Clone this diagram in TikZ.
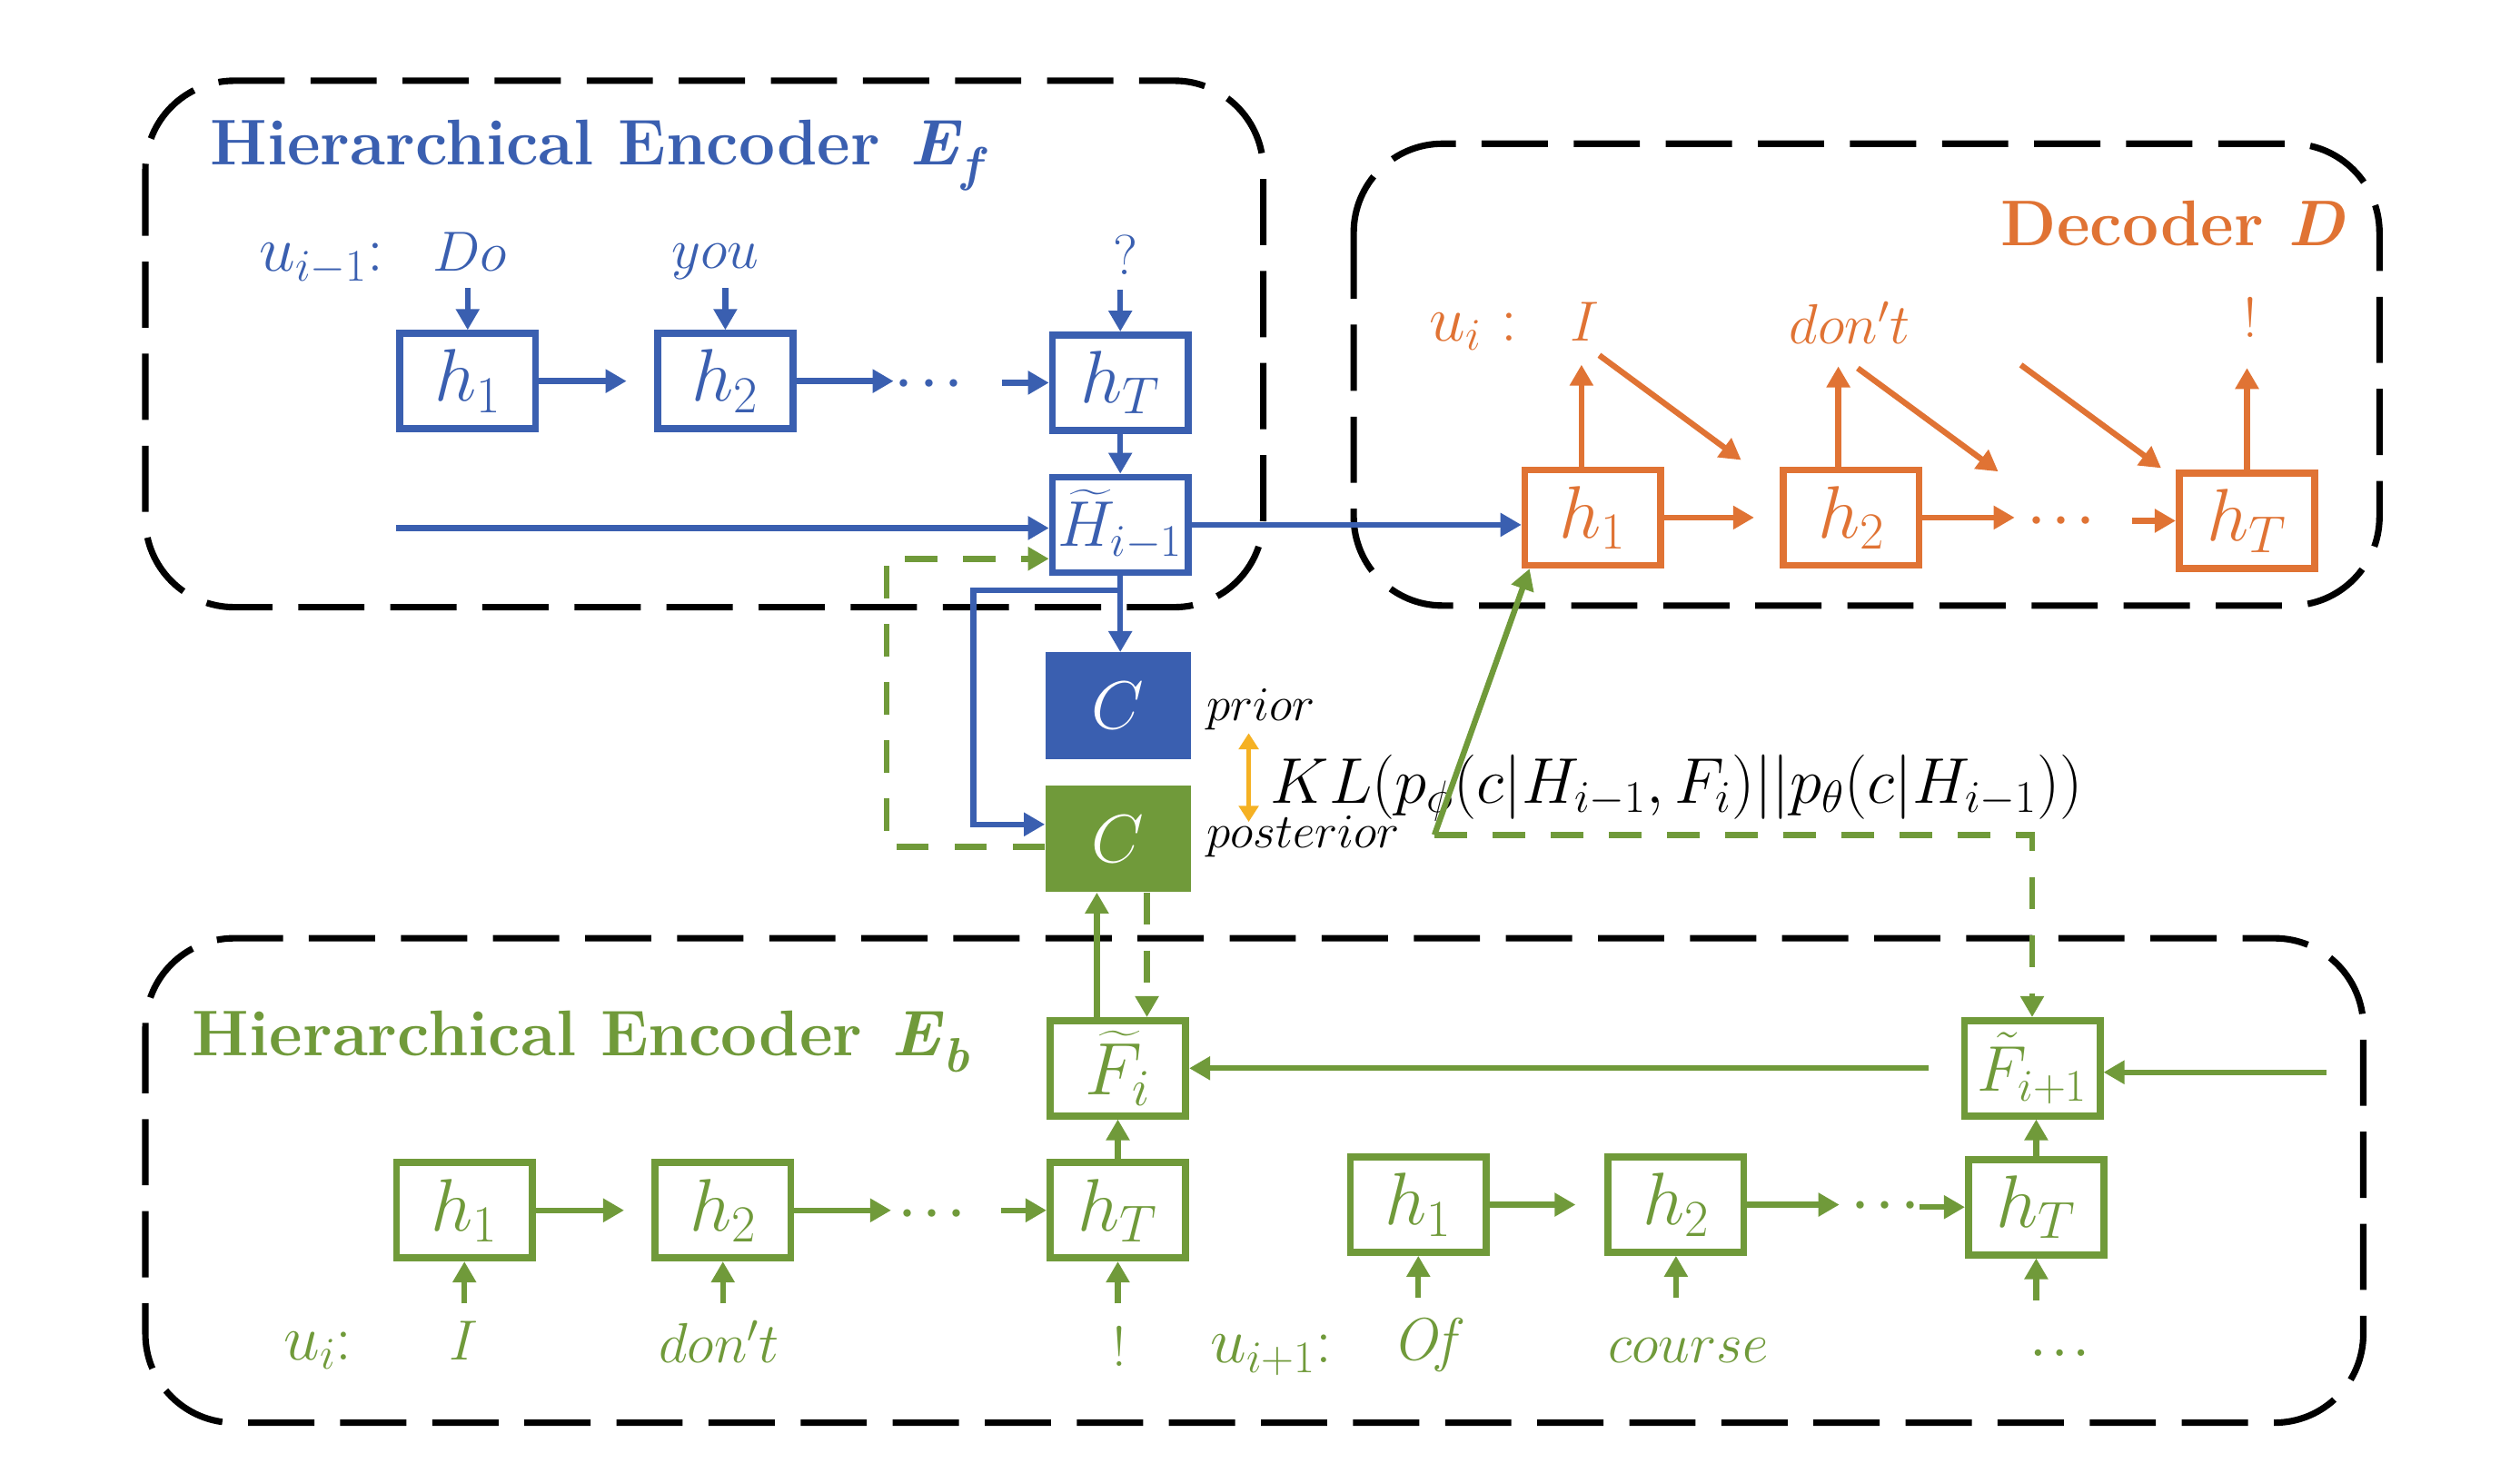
\RequirePackage{fix-cm}
\documentclass[tikz,border=0pt]{standalone}
\usepackage{amsmath}
\usetikzlibrary{arrows.meta}
\definecolor{cblue}{RGB}{58,95,176}
\definecolor{cgreen}{RGB}{112,154,58}
\definecolor{corange}{RGB}{224,115,52}
\definecolor{cyell}{RGB}{245,177,35}
\newcommand\hfnt{\fontsize{46}{50}\selectfont}
\newcommand\wfnt{\fontsize{35}{38}\selectfont}
\newcommand\ufnt{\fontsize{40}{44}\selectfont}
\newcommand\tfnt{\fontsize{40}{44}\selectfont\bfseries}
\newcommand\dfnt{\fontsize{30}{32}\selectfont}
\begin{document}
\begin{tikzpicture}[x=1pt,y=-1pt,
  dbox/.style={draw=black, line width=4pt, dash pattern=on 41pt off 16pt, rounded corners=55pt},
  hbox/.style={draw=#1, line width=4.3pt, minimum width=84pt, minimum height=59pt, inner sep=0pt, text=#1, font=\hfnt, fill=white},
  cbox/.style={minimum width=90pt, minimum height=66pt, inner sep=0pt, text=white, font=\fontsize{42}{44}\selectfont},
  arr/.style={draw=#1, line width=3.6pt, -{Triangle[length=13pt,width=14pt]}},
  darr/.style={draw=#1, line width=3.8pt, dash pattern=on 20pt off 16pt, -{Triangle[length=13pt,width=14pt]}},
  word/.style={anchor=base, inner sep=0pt, text=#1, font=\wfnt},
  uword/.style={anchor=base, inner sep=0pt, text=#1, font=\ufnt},
  dots/.style={anchor=base, inner sep=0pt, text=#1, font=\dfnt},
  title/.style={inner sep=0pt, text=#1, font=\tfnt}]
\useasboundingbox[fill=white] (0,0) rectangle (1560,912);
% dashed containers
\draw[dbox] (90,50) rectangle (782,376);
\draw[dbox] (838,89) rectangle (1473,375);
\draw[dbox] (90,581) rectangle (1463,881);
% titles
\node[title=cblue, anchor=base west] (tEf) at (130,102) {Hierarchical Encoder\hspace{18pt}\textit{E}\raisebox{-10pt}{\fontsize{30}{30}\selectfont\textit{f}}};
\node[title=corange, anchor=base east] (tD) at (1452,152) {Decoder \textit{D}};
\node[title=cgreen, anchor=base west] (tEb) at (119,654) {Hierarchical Encoder\hspace{18pt}\textit{E}\raisebox{-10pt}{\fontsize{30}{30}\selectfont\textit{b}}};
% blue encoder
\node[hbox=cblue] (bh1) at (289.5,236) {$h_1$};
\node[hbox=cblue] (bh2) at (449,236) {$h_2$};
\node[hbox=cblue] (bhT) at (693.5,237) {$h_T$};
\node[hbox=cblue, font=\fontsize{40}{42}\selectfont] (bH) at (693.5,325) {$\widetilde{H}_{i-1}$};
\node[uword=cblue] (wu1) at (199,168) {$u_{i-1}$:};
\node[word=cblue] (wDo) at (291,168) {$Do$};
\node[word=cblue] (wyou) at (443,166) {$you$};
\node[word=cblue] (wq) at (697,170) {?};
\node[dots=cblue] (bd) at (578,245) {$\boldsymbol{\cdots}$};
% decoder
\node[hbox=corange] (oh1) at (986,320.5) {$h_1$};
\node[hbox=corange] (oh2) at (1146,320.5) {$h_2$};
\node[hbox=corange] (ohT) at (1391,322.5) {$h_T$};
\node[uword=corange] (wui) at (912,211) {$u_i$ :};
\node[word=corange] (wI) at (981,211) {$I$};
\node[word=corange] (wdont) at (1145,213) {$don't$};
\node[word=corange] (wex) at (1393,209) {!};
\node[dots=corange] (od) at (1279,330) {$\boldsymbol{\cdots}$};
% latent boxes
\node[cbox, fill=cblue] (Cp) at (692,437) {$C$};
\node[cbox, fill=cgreen] (Cq) at (692,519.5) {$C$};
\node[anchor=base west, inner sep=0pt, font=\dfnt] (prior) at (747,446) {$prior$};
\node[anchor=base west, inner sep=0pt, font=\dfnt] (post) at (747,525) {$posterior$};
\node[inner sep=0pt, font=\fontsize{40}{44}\selectfont] (kl) at (1038,488) {$KL(p_\phi(c|H_{i-1},F_i)||p_\theta(c|H_{i-1}))$};
% green encoder
\node[hbox=cgreen] (gh1) at (287.5,749.5) {$h_1$};
\node[hbox=cgreen] (gh2) at (447.5,749.5) {$h_2$};
\node[hbox=cgreen] (ghT) at (692,749.5) {$h_T$};
\node[hbox=cgreen] (gh1b) at (878,746) {$h_1$};
\node[hbox=cgreen] (gh2b) at (1037.5,746) {$h_2$};
\node[hbox=cgreen] (ghTb) at (1260.5,747.5) {$h_T$};
\node[hbox=cgreen] (gF) at (692,661.5) {$\widetilde{F}_i$};
\node[hbox=cgreen, font=\fontsize{40}{42}\selectfont] (gF1) at (1258,661.5) {$\tilde{F}_{i+1}$};
\node[uword=cgreen] (gwu) at (197,842) {$u_i$:};
\node[word=cgreen] (gwI) at (287,842) {$I$};
\node[word=cgreen] (gwdont) at (445,844) {$don't$};
\node[word=cgreen] (gwex) at (693,846) {!};
\node[uword=cgreen] (gwu1) at (787,844) {$u_{i+1}$:};
\node[word=cgreen, font=\fontsize{37}{40}\selectfont] (gwOf) at (885,842) {$\mathit{Of}$};
\node[word=cgreen] (gwcourse) at (1045,844) {$course$};
\node[word=cgreen, font=\fontsize{26}{28}\selectfont] (gwdd) at (1275,840) {$\boldsymbol{\ldots}$};
\node[dots=cgreen] (gd1) at (580,759) {$\boldsymbol{\cdots}$};
\node[dots=cgreen] (gd2) at (1170,754) {$\boldsymbol{\cdots}$};
% blue connectors
\foreach \n in {bh1,bh2,bhT} \draw[arr=cblue] ([yshift=26pt]\n.north) -- (\n.north);
\draw[arr=cblue, shorten >=17pt] (bh1) -- (bh2);
\draw[arr=cblue] (bh2.east) -- ++(60,0);
\draw[arr=cblue] ([xshift=-29pt]bhT.west) -- (bhT.west);
\draw[arr=cblue] (bhT.south) -- (bhT.south |- bH.north);
\coordinate (bin) at (245,327);
\draw[arr=cblue] (bin) -- (bin -| bH.west);
\draw[arr=cblue] (bH.east) -- (bH.east -| oh1.west);
\draw[arr=cblue] (bH.south) -- (bH.south |- Cp.north);
\draw[arr=cblue] ([yshift=-9pt]bH.south) -- ++(-91,0) |- ([yshift=9pt]Cq.west);
% decoder connectors
\draw[arr=corange] ([xshift=-7pt]oh1.north) -- ++(0,-63);
\draw[arr=corange] ([xshift=-8pt]oh2.north) -- ++(0,-62);
\draw[arr=corange] (ohT.north) -- ++(0,-63);
\coordinate (od1) at (990,220);
\coordinate (od2s) at (1150,228);
\coordinate (od2e) at (1237,292);
\coordinate (od3) at (1251,226);
\draw[arr=corange] (od1) -- ([xshift=-24pt,yshift=4pt]oh2.north west);
\draw[arr=corange] (od2s) -- (od2e);
\draw[arr=corange] (od3) -- ([xshift=-9pt,yshift=1pt]ohT.north west);
\draw[arr=corange, shorten >=16pt] (oh1) -- (oh2);
\draw[arr=corange] (oh2.east) -- ++(57,0);
\draw[arr=corange] ([xshift=-27pt]ohT.west) -- (ohT.west);
% KL arrow
\coordinate (ka) at (773,454);
\coordinate (kb) at (773,509);
\draw[draw=cyell, line width=3pt, {Triangle[length=10pt,width=12pt]}-{Triangle[length=10pt,width=12pt]}] (ka) -- (kb);
% green connectors
\draw[darr=cgreen] ([yshift=-5pt]Cq.west) -- ++(-98,0) |- ([yshift=-21pt]bH.west);
\draw[arr=cgreen] ([xshift=-13pt]gF.north) -- ([xshift=-13pt]Cq.south);
\draw[darr=cgreen] ([xshift=18pt]Cq.south) -- ([xshift=18pt]gF.north);
\coordinate (gk) at (888,517);
\draw[arr=cgreen] (gk) -- ([xshift=5pt]oh1.south west);
\draw[darr=cgreen] (gk) -| (gF1.north);
\draw[arr=cgreen] ([xshift=-20pt]gF1.west) -- (gF.east);
\coordinate (gr) at (1440,664);
\draw[arr=cgreen] (gr) -- (gr -| gF1.east);
\draw[arr=cgreen] (ghT.north) -- (gF.south);
\draw[arr=cgreen] (ghTb.north) -- (ghTb.north |- gF1.south);
\foreach \n in {gh1,gh2,ghT,gh1b,gh2b,ghTb} \draw[arr=cgreen] ([yshift=-26pt]\n.south) -- (\n.south);
\draw[arr=cgreen, shorten >=17pt] (gh1) -- (gh2);
\draw[arr=cgreen] (gh2.east) -- ++(60,0);
\draw[arr=cgreen] ([xshift=-28pt]ghT.west) -- (ghT.west);
\draw[arr=cgreen, shorten >=18pt] (gh1b) -- (gh2b);
\draw[arr=cgreen] (gh2b.east) -- ++(57,0);
\draw[arr=cgreen] ([xshift=-28pt]ghTb.west) -- (ghTb.west);
\end{tikzpicture}
\end{document}
